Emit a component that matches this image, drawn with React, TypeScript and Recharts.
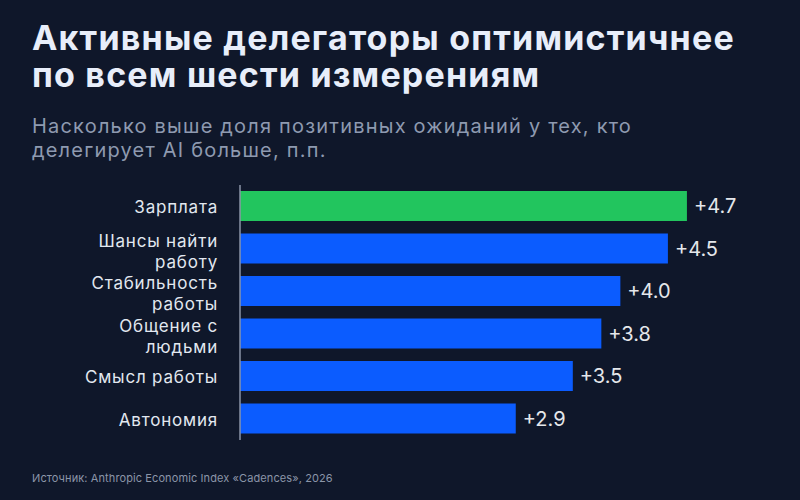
import React from "react";
import { BarChart, Bar, XAxis, YAxis, Cell, LabelList } from "recharts";

const categories = ["Зарплата", "Шансы найти работу", "Стабильность работы", "Общение с людьми", "Смысл работы", "Автономия"];
const tickLines = [["Зарплата"], ["Шансы найти", "работу"], ["Стабильность", "работы"], ["Общение с", "людьми"], ["Смысл работы"], ["Автономия"]];
const values = [4.7, 4.5, 4.0, 3.8, 3.5, 2.9];
const highlighted = "Зарплата";

const data = categories.map((c, i) => ({ name: c, value: values[i] }));

const FONT = "Inter, 'Noto Sans', sans-serif";
const BG = "#0f172a";
const GREEN = "#22c55e";
const BLUE = "#0b5cff";

const Tick = (props: any) => {
  const { x, y, payload } = props;
  const idx = categories.indexOf(payload.value);
  const lines = tickLines[idx] || [payload.value];
  const first = lines.length === 1 ? 7 : -2;
  return (
    <text x={x} y={y} textAnchor="end" fill="#e2e8f0" fontSize={17} letterSpacing={0.8} fontFamily={FONT}>
      {lines.map((l: string, i: number) => (
        <tspan key={i} x={x} y={y + first + i * 21}>{l}</tspan>
      ))}
    </text>
  );
};

export default function App() {
  return (
    <div style={{ position: "fixed", left: 0, top: 0, width: 800, height: 500, background: BG, fontFamily: FONT, overflow: "hidden" }}>
      <div style={{ position: "absolute", left: 0, top: 170 }}>
        <BarChart width={800} height={290} data={data} layout="vertical" margin={{ top: 15, right: 37, bottom: 20, left: 0 }}>
          <XAxis type="number" hide domain={[0, 5.5]} />
          <YAxis
            type="category"
            dataKey="name"
            width={240}
            tickLine={false}
            tickSize={0}
            tickMargin={22}
            axisLine={{ stroke: "#8b95a7", strokeWidth: 1.5 }}
            tick={<Tick />}
            interval={0}
          />
          <Bar dataKey="value" barSize={30} isAnimationActive={false}>
            {data.map((d, i) => (
              <Cell key={i} fill={d.name === highlighted ? GREEN : BLUE} />
            ))}
            <LabelList
              dataKey="value"
              position="right"
              offset={7}
              fill="#e5e7eb"
              fontSize={20}
              fontFamily={FONT}
              formatter={(v: any) => `+${Number(v).toFixed(1)}`}
            />
          </Bar>
        </BarChart>
      </div>
      <div style={{ position: "absolute", left: 32, top: 19, fontSize: 34, lineHeight: "37px", letterSpacing: "1.2px", fontWeight: 700, color: "#e8eefa", width: 780, whiteSpace: "nowrap" }}>
        Активные делегаторы оптимистичнее<br />по всем шести измерениям
      </div>
      <div style={{ position: "absolute", left: 32, top: 114, fontSize: 20, lineHeight: "24px", letterSpacing: "1.2px", color: "#8e9ab0", width: 780, whiteSpace: "nowrap" }}>
        Насколько выше доля позитивных ожиданий у тех, кто<br />делегирует AI больше, п.п.
      </div>
      <div style={{ position: "absolute", left: 32, top: 472, fontSize: 11, lineHeight: "13px", letterSpacing: "0.1px", color: "#8b95a8" }}>
        Источник: Anthropic Economic Index «Cadences», 2026
      </div>
    </div>
  );
}
